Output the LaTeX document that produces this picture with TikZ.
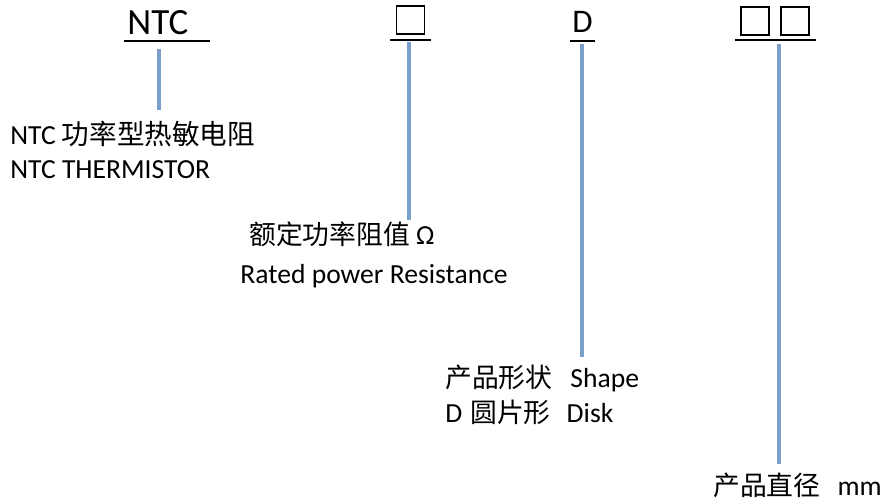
\documentclass[tikz,border=0pt]{standalone}
\usepackage{fontspec}
\setmainfont{Carlito}
\newfontfamily\cjk[Scale=0.97]{Noto Sans CJK SC}
\newfontfamily\cjkb[Scale=1.0]{Noto Sans CJK SC}
\definecolor{connblue}{HTML}{7BA0CB}
\begin{document}
\begin{tikzpicture}[x=0.5pt,y=-0.5pt,
  title/.style={inner sep=0pt, anchor=base west, font=\fontsize{18.5pt}{20pt}\selectfont},
  titled/.style={inner sep=0pt, anchor=base west, font=\fontsize{16.5pt}{18pt}\selectfont},
  lab/.style={inner sep=0pt, anchor=base west, font=\fontsize{13.8pt}{16pt}\selectfont},
  uline/.style={line width=1.2pt, draw=black},
  conn/.style={line width=1.7pt, draw=connblue},
  slot/.style={draw=black, line width=0.75pt, minimum size=14pt, inner sep=0pt}]
\useasboundingbox (0,0) rectangle (886,501);
% code heads
\node[title] (ntc) at (127,35) {NTC};
\node[slot] (s1) at (410.5,20) {};
\node[titled] (d) at (572,33) {D};
\node[slot] (s2) at (755,21) {};
\node[slot] (s3) at (795,21) {};
% underlines
\coordinate (u1a) at (124,41); \coordinate (u1b) at (210,41);
\coordinate (u2a) at (390,40); \coordinate (u2b) at (431,40);
\coordinate (u3a) at (570,41); \coordinate (u3b) at (595,41);
\coordinate (u4a) at (735,40); \coordinate (u4b) at (816,40);
\draw[uline] (u1a) -- (u1b);
\draw[uline] (u2a) -- (u2b);
\draw[uline] (u3a) -- (u3b);
\draw[uline] (u4a) -- (u4b);
% labels
\node[lab] (l1a) at (10,145) {NTC\hspace{3pt}{\cjkb 功率型热敏电阻}};
\node[lab] (l1b) at (10,179) {NTC THERMISTOR};
\node[lab] (l2a) at (249,245) {{\cjk 额定功率阻值}\hspace{3pt}Ω};
\node[lab] (l2b) at (240,284) {Rated power Resistance};
\node[lab] (l3a) at (445,387) {{\cjk 产品形状}\hspace{9pt}Shape};
\node[lab] (l3b) at (445,422) {D\hspace{4pt}{\cjk 圆片形}\hspace{8pt}Disk};
\node[lab] (l4) at (713,495) {{\cjk 产品直径}\hspace{8.5pt}mm};
% connectors
\coordinate (c1t) at (159,49);  \coordinate (c1b) at (159,110);
\coordinate (c2t) at (409,42);  \coordinate (c2b) at (409,220);
\coordinate (c3t) at (582,44);  \coordinate (c3b) at (582,357);
\coordinate (c4t) at (779,44);  \coordinate (c4b) at (779,464);
\draw[conn] (c1t) -- (c1b);
\draw[conn] (c2t) -- (c2b);
\draw[conn] (c3t) -- (c3b);
\draw[conn] (c4t) -- (c4b);
\end{tikzpicture}
\end{document}
